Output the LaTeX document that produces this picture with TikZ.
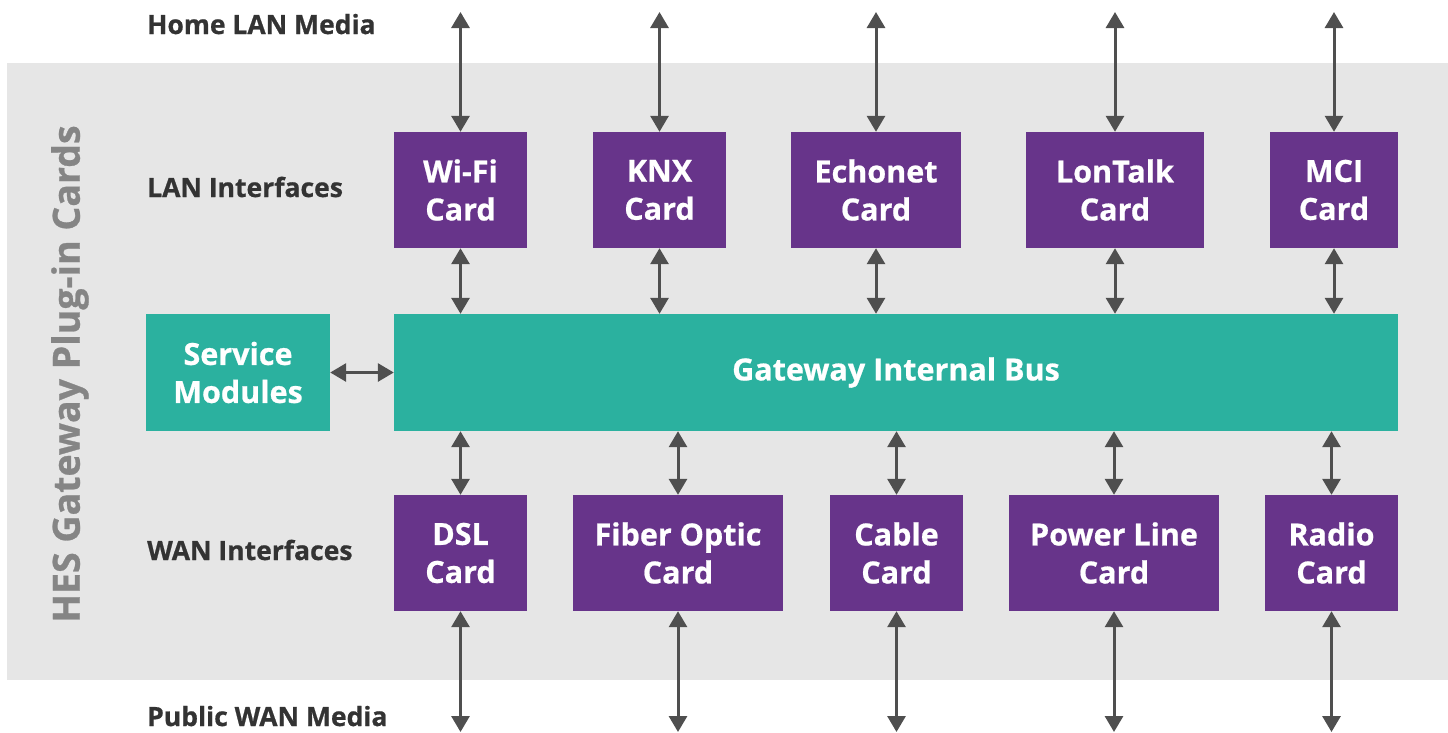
\documentclass[tikz,border=0pt]{standalone}
\usepackage{fontspec}
\setmainfont{Open Sans}[BoldFeatures={FakeBold=0.7}]
\usetikzlibrary{arrows.meta}
\definecolor{bgc}{HTML}{E6E6E6}
\definecolor{purp}{HTML}{67348A}
\definecolor{teal}{HTML}{2BB19F}
\definecolor{arrc}{HTML}{4F4F4F}
\definecolor{lblc}{HTML}{333333}
\definecolor{ttlc}{HTML}{858585}
\begin{document}
\begin{tikzpicture}[x=1pt,y=-1pt,
  card/.style={fill=purp,text=white,font=\fontsize{30.5}{38}\selectfont\bfseries,align=center,inner sep=0pt,minimum height=116pt},
  tealbox/.style={fill=teal,text=white,font=\fontsize{30.5}{38}\selectfont\bfseries,align=center,inner sep=0pt,minimum height=117pt},
  lbl/.style={text=lblc,font=\fontsize{26.5}{30}\selectfont\bfseries,inner sep=0pt,anchor=base west},
  arr/.style={draw=arrc,line width=3pt,{Triangle[width=18pt,length=16pt]}-{Triangle[width=18pt,length=16pt]}}]
\useasboundingbox (0,0) rectangle (1448,732);
\fill[bgc] (7,63) rectangle (1448,680);
% title
\node[rotate=90,text=ttlc,font=\fontsize{37.5}{40}\selectfont\bfseries,inner sep=0pt] (title) at (70,374) {HES Gateway Plug-in Cards};
% labels
\node[lbl] (l1) at (147,34) {Home LAN Media};
\node[lbl] (l2) at (147,197) {LAN Interfaces};
\node[lbl] (l3) at (147,560) {WAN Interfaces};
\node[lbl] (l4) at (147,726) {Public WAN Media};
% top cards
\node[card,minimum width=133pt] (wifi) at (460.5,190) {Wi-Fi\\Card};
\node[card,minimum width=133pt] (knx) at (659.5,190) {KNX\\Card};
\node[card,minimum width=170pt] (echo) at (876,190) {Echonet\\Card};
\node[card,minimum width=178pt] (lon) at (1115,190) {LonTalk\\Card};
\node[card,minimum width=128pt] (mci) at (1334,190) {MCI\\Card};
% bus and services
\node[tealbox,minimum width=1004pt] (bus) at (896,372.5) {Gateway Internal Bus};
\node[tealbox,minimum width=184pt] (svc) at (238,372.5) {Service\\Modules};
% bottom cards
\node[card,minimum width=133pt] (dsl) at (460.5,553) {DSL\\Card};
\node[card,minimum width=210pt] (fib) at (678,553) {Fiber Optic\\Card};
\node[card,minimum width=133pt] (cab) at (896.5,553) {Cable\\Card};
\node[card,minimum width=210pt] (pow) at (1114,553) {Power Line\\Card};
\node[card,minimum width=133pt] (rad) at (1331.5,553) {Radio\\Card};
% free ends
\foreach \n in {wifi,knx,echo,lon,mci}{
  \coordinate (\n T) at (\n.north |- 0,12);
  \draw[arr] (\n T) -- (\n.north);
  \draw[arr] (\n.south) -- (\n.south |- bus.north);
}
\foreach \n in {dsl,fib,cab,pow,rad}{
  \coordinate (\n B) at (\n.south |- 0,732);
  \draw[arr] (\n.south) -- (\n B);
  \draw[arr] (\n.north |- bus.south) -- (\n.north);
}
\draw[arr] (svc.east) -- (bus.west);
\end{tikzpicture}
\end{document}
